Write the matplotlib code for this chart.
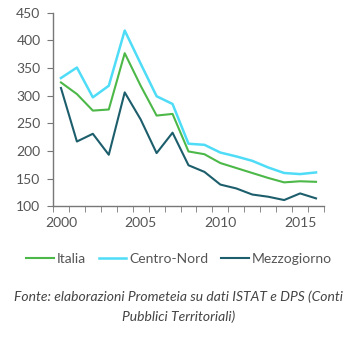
import matplotlib.pyplot as plt
from matplotlib.ticker import MultipleLocator

plt.rcParams['font.family'] = ['Lato', 'DejaVu Sans']

years = list(range(2000, 2017))
italia = [324, 303, 273, 275, 377, 318, 264, 267, 199, 194, 178, 169, 160, 151, 143, 145, 144]
centro_nord = [332, 351, 297, 318, 418, 358, 299, 285, 213, 211, 197, 190, 182, 170, 160, 158, 161]
mezzogiorno = [314, 217, 231, 193, 306, 257, 196, 233, 174, 162, 139, 132, 121, 117, 111, 123, 114]
yticks = [100, 150, 200, 250, 300, 350, 400, 450]
xticks = [2000, 2005, 2010, 2015]

grey = "#555555"

fig = plt.figure(figsize=(3.58, 3.39), dpi=100)
ax = fig.add_axes([0.148, 0.392, 0.757, 0.570])

ax.plot(years, italia, color="#4cb848", lw=1.5, label="Italia")
ax.plot(years, centro_nord, color="#4fdcf7", lw=1.8, label="Centro-Nord")
ax.plot(years, mezzogiorno, color="#1d5e6c", lw=1.5, label="Mezzogiorno")

ax.set_xlim(1999.5, 2016.5)
ax.set_ylim(100, 450)
ax.set_yticks(yticks)
ax.set_xticks(xticks)
ax.xaxis.set_minor_locator(MultipleLocator(1, offset=0.5))
ax.tick_params(axis="x", which="major", length=0, pad=8, labelsize=10, colors=grey)
ax.tick_params(axis="x", which="minor", length=4, color="#777777", direction="out")
ax.tick_params(axis="y", length=4, color="#777777", labelsize=10, labelcolor=grey, pad=5)

for s in ["top", "right"]:
    ax.spines[s].set_visible(False)
for s in ["left", "bottom"]:
    ax.spines[s].set_color("#777777")
    ax.spines[s].set_linewidth(1)

fig.legend(loc="center", bbox_to_anchor=(0.5, 0.236), ncol=3, frameon=False,
           fontsize=10, handlelength=2.0, handletextpad=0.2, columnspacing=0.9,
           labelcolor=grey)

fig.text(0.5, 0.095, "Fonte: elaborazioni Prometeia su dati ISTAT e DPS (Conti\nPubblici Territoriali)",
         ha="center", va="center", style="italic", fontsize=10, color="#444444",
         linespacing=1.65)

fig.savefig("out.png", dpi=100)
